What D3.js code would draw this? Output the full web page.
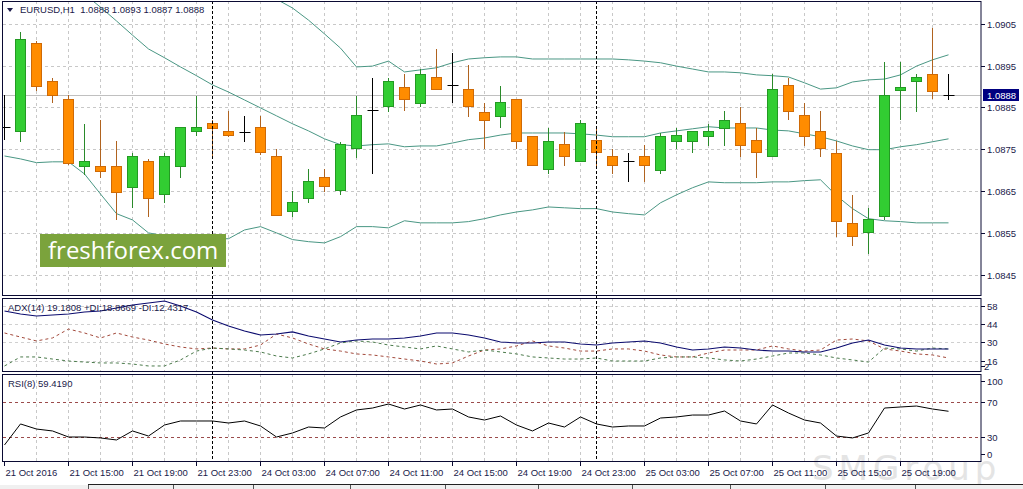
<!DOCTYPE html>
<html>
<head>
<meta charset="utf-8">
<script src="https://cdn.jsdelivr.net/npm/d3@7"></script>
<style>
  html, body { margin: 0; padding: 0; background: #fff; overflow: hidden; }
  svg { display: block; }
  text { font-family: "Liberation Sans", Arial, sans-serif; }
</style>
</head>
<body>
<svg id="chart" width="1023" height="489"></svg>
<script>
// EURUSD H1, 60 bars from 21 Oct 2016 11:00 to 25 Oct 2016 22:00
const open = [
  1.08802, 1.08793, 1.09003, 1.08912, 1.08871, 1.08709, 1.08711, 1.08711, 1.08659, 1.08721,
  1.08642, 1.08709, 1.08793, 1.08812, 1.08793, 1.08790, 1.08802, 1.08733, 1.08601, 1.08632,
  1.08683, 1.08652, 1.08752, 1.08843, 1.08852, 1.08900, 1.08862, 1.08922, 1.08903, 1.08893,
  1.08840, 1.08828, 1.08871, 1.08781, 1.08702, 1.08762, 1.08721, 1.08771, 1.08733, 1.08721,
  1.08733, 1.08699, 1.08769, 1.08769, 1.08781, 1.08802, 1.08812, 1.08771, 1.08733, 1.08903,
  1.08831, 1.08793, 1.08742, 1.08573, 1.08551, 1.08590, 1.08893, 1.08912, 1.08931, 1.08880];
const high = [
  1.08881, 1.09032, 1.09010, 1.08922, 1.08881, 1.08812, 1.08821, 1.08771, 1.08742, 1.08728,
  1.08742, 1.08805, 1.08879, 1.08821, 1.08843, 1.08831, 1.08831, 1.08752, 1.08652, 1.08704,
  1.08704, 1.08769, 1.08879, 1.08922, 1.08922, 1.08931, 1.08943, 1.08991, 1.08981, 1.08953,
  1.08862, 1.08903, 1.08871, 1.08781, 1.08802, 1.08793, 1.08821, 1.08802, 1.08752, 1.08742,
  1.08762, 1.08790, 1.08802, 1.08793, 1.08812, 1.08843, 1.08852, 1.08802, 1.08931, 1.08922,
  1.08862, 1.08843, 1.08771, 1.08642, 1.08611, 1.08960, 1.08960, 1.08931, 1.09041, 1.08930];
const low = [
  1.08774, 1.08769, 1.08891, 1.08862, 1.08714, 1.08690, 1.08683, 1.08582, 1.08611, 1.08590,
  1.08623, 1.08683, 1.08783, 1.08733, 1.08781, 1.08769, 1.08738, 1.08592, 1.08590, 1.08623,
  1.08649, 1.08642, 1.08730, 1.08692, 1.08840, 1.08843, 1.08852, 1.08893, 1.08862, 1.08828,
  1.08752, 1.08802, 1.08752, 1.08711, 1.08692, 1.08711, 1.08721, 1.08711, 1.08692, 1.08673,
  1.08673, 1.08692, 1.08752, 1.08742, 1.08759, 1.08759, 1.08733, 1.08683, 1.08733, 1.08821,
  1.08759, 1.08733, 1.08542, 1.08520, 1.08501, 1.08582, 1.08821, 1.08840, 1.08871, 1.08870];
const close = [
  1.08802, 1.09013, 1.08900, 1.08879, 1.08719, 1.08721, 1.08699, 1.08649, 1.08733, 1.08632,
  1.08733, 1.08802, 1.08802, 1.08800, 1.08783, 1.08790, 1.08742, 1.08592, 1.08623, 1.08673,
  1.08661, 1.08762, 1.08831, 1.08843, 1.08912, 1.08871, 1.08931, 1.08893, 1.08903, 1.08852,
  1.08821, 1.08862, 1.08771, 1.08711, 1.08769, 1.08733, 1.08812, 1.08742, 1.08711, 1.08721,
  1.08711, 1.08781, 1.08783, 1.08793, 1.08793, 1.08821, 1.08759, 1.08742, 1.08893, 1.08840,
  1.08781, 1.08752, 1.08580, 1.08542, 1.08582, 1.08879, 1.08900, 1.08922, 1.08891, 1.08880];

// Bollinger bands
const bbUpper = [
  1.09816, 1.09765, 1.09713, 1.09648, 1.09586, 1.09553, 1.09538, 1.09519, 1.09467, 1.09431,
  1.09395, 1.09357, 1.09316, 1.09273, 1.09240, 1.09180, 1.09134, 1.09110, 1.09089, 1.09060,
  1.09027, 1.08993, 1.08948, 1.08950, 1.08962, 1.08936, 1.08941, 1.08946, 1.08958, 1.08967,
  1.08970, 1.08972, 1.08972, 1.08967, 1.08967, 1.08967, 1.08967, 1.08967, 1.08967, 1.08965,
  1.08962, 1.08958, 1.08950, 1.08943, 1.08936, 1.08936, 1.08934, 1.08929, 1.08927, 1.08924,
  1.08910, 1.08895, 1.08898, 1.08912, 1.08917, 1.08919, 1.08929, 1.08950, 1.08965, 1.08977];
const bbMiddle = [
  1.09275, 1.09247, 1.09216, 1.09185, 1.09154, 1.09122, 1.09091, 1.09058, 1.09024, 1.08991,
  1.08970, 1.08948, 1.08927, 1.08905, 1.08888, 1.08869, 1.08850, 1.08831, 1.08812, 1.08795,
  1.08776, 1.08762, 1.08759, 1.08762, 1.08764, 1.08757, 1.08759, 1.08759, 1.08766, 1.08774,
  1.08778, 1.08785, 1.08790, 1.08790, 1.08790, 1.08790, 1.08788, 1.08785, 1.08781, 1.08781,
  1.08781, 1.08790, 1.08795, 1.08800, 1.08805, 1.08802, 1.08802, 1.08802, 1.08797, 1.08795,
  1.08788, 1.08781, 1.08771, 1.08759, 1.08750, 1.08750, 1.08757, 1.08762, 1.08769, 1.08776];
const bbLower = [
  1.08735, 1.08728, 1.08719, 1.08721, 1.08721, 1.08692, 1.08644, 1.08597, 1.08582, 1.08551,
  1.08544, 1.08539, 1.08537, 1.08537, 1.08537, 1.08558, 1.08566, 1.08551, 1.08535, 1.08530,
  1.08527, 1.08542, 1.08566, 1.08566, 1.08563, 1.08580, 1.08575, 1.08575, 1.08575, 1.08578,
  1.08585, 1.08594, 1.08601, 1.08606, 1.08613, 1.08611, 1.08609, 1.08609, 1.08601, 1.08597,
  1.08594, 1.08623, 1.08642, 1.08659, 1.08673, 1.08671, 1.08671, 1.08671, 1.08673, 1.08673,
  1.08676, 1.08678, 1.08640, 1.08609, 1.08585, 1.08580, 1.08578, 1.08575, 1.08575, 1.08575];

// ADX(14)
const adxMain = [
  54.2, 51.9, 50.4, 51.1, 51.9, 53.4, 54.2, 56.5, 58.8, 60.3,
  61.8, 58.0, 53.4, 47.3, 42.7, 38.9, 35.9, 36.6, 38.2, 35.1,
  32.8, 30.5, 32.0, 32.8, 32.8, 33.6, 35.1, 37.4, 37.4, 35.9,
  33.6, 30.5, 29.8, 29.8, 30.5, 30.5, 29.0, 28.2, 29.8, 30.5,
  31.3, 29.8, 26.7, 24.4, 25.2, 26.7, 25.9, 24.4, 23.6, 23.6,
  22.9, 22.9, 25.9, 29.8, 32.0, 28.2, 25.9, 25.2, 25.2, 25.2];
const plusDI = [
  12.2, 19.1, 19.1, 17.5, 16.0, 15.2, 14.5, 14.5, 13.7, 12.2,
  12.2, 16.8, 23.6, 25.9, 25.2, 24.4, 22.9, 19.8, 18.3, 21.4,
  25.2, 29.8, 31.3, 30.5, 28.2, 26.7, 25.2, 27.5, 25.2, 22.9,
  24.4, 22.9, 21.4, 19.1, 18.3, 17.5, 17.5, 18.3, 16.0, 16.0,
  16.0, 18.3, 19.1, 19.1, 18.3, 16.8, 16.0, 17.5, 19.8, 22.1,
  22.1, 20.6, 18.3, 16.8, 15.2, 25.9, 25.2, 23.6, 25.9, 25.2];
const minusDI = [
  37.4, 34.3, 31.3, 33.6, 40.4, 37.4, 33.6, 37.4, 34.3, 32.0,
  29.0, 26.7, 25.2, 25.9, 25.2, 25.2, 28.2, 36.6, 33.6, 29.0,
  25.2, 23.6, 21.4, 20.6, 19.1, 17.5, 16.0, 13.7, 14.5, 19.8,
  24.4, 25.2, 27.5, 31.3, 27.5, 25.9, 23.6, 23.6, 25.2, 25.2,
  23.6, 20.6, 19.1, 19.1, 22.1, 24.4, 24.4, 24.4, 27.5, 25.2,
  23.6, 24.4, 32.0, 32.8, 31.3, 25.2, 23.6, 21.4, 20.6, 18.3];

// RSI(8)
const rsi = [
  20.9, 44.9, 39.1, 36.9, 30.0, 30.0, 28.9, 26.6, 36.9, 31.1,
  43.7, 48.3, 48.3, 48.3, 46.0, 48.3, 42.6, 30.0, 34.6, 41.4,
  40.3, 52.9, 60.9, 63.1, 67.7, 62.0, 66.6, 60.9, 62.0, 52.9,
  49.4, 54.0, 43.7, 36.9, 46.0, 41.4, 52.9, 44.9, 41.4, 42.6,
  42.6, 51.7, 52.9, 55.1, 55.1, 59.7, 48.3, 44.9, 66.6, 57.4,
  49.4, 46.0, 31.1, 28.9, 34.6, 63.1, 64.3, 65.4, 62.0, 59.4];

const priceTicks = [1.0905, 1.0895, 1.0885, 1.0875, 1.0865, 1.0855, 1.0845];
const adxTicks = [58, 44, 30, 16, 2];
const rsiTicks = [100, 70, 30, 0];
const rsiLevels = [70, 30];
const timeLabels = ["21 Oct 2016", "21 Oct 15:00", "21 Oct 19:00", "21 Oct 23:00",
  "24 Oct 03:00", "24 Oct 07:00", "24 Oct 11:00", "24 Oct 15:00", "24 Oct 19:00",
  "24 Oct 23:00", "25 Oct 03:00", "25 Oct 07:00", "25 Oct 11:00", "25 Oct 15:00", "25 Oct 19:00"];
const timeLabelBars = [0, 4, 8, 12, 16, 20, 24, 28, 32, 36, 40, 44, 48, 52, 56];
const daySeparatorBars = [13, 37];
const lastPrice = 1.0888;

const svg = d3.select('#chart');
const left = 3, right = 981;
const mainP = {top: 1, bottom: 296};
const adxP = {top: 298, bottom: 372};
const rsiP = {top: 374, bottom: 462};
const textColor = '#1a1a4a';
const n = close.length;

const x = d3.scaleLinear().domain([0, n - 1]).range([4.5, 948.5]);
const yPrice = d3.scaleLinear().domain([1.0905, 1.0845]).range([24.3, 275.1]);
const yAdx = d3.scaleLinear().domain([58, 16]).range([306, 361]);
const yRsi = d3.scaleLinear().domain([70, 30]).range([402, 437]);
const px = v => Math.floor(v) + 0.5;

// faint watermark behind everything
svg.append('text')
  .attr('x', 812).attr('y', 480)
  .attr('font-size', 34).attr('letter-spacing', 5)
  .attr('fill', '#e4e4e4')
  .style('font-family', '"DejaVu Sans", sans-serif')
  .text('SMGroup');

function clipFor(id, p) {
  svg.append('clipPath').attr('id', id)
    .append('rect').attr('x', left).attr('y', p.top)
    .attr('width', right - left).attr('height', p.bottom - p.top);
  return svg.append('g').attr('clip-path', `url(#${id})`);
}

const gMain = clipFor('clipMain', mainP);
const gAdx = clipFor('clipAdx', adxP);
const gRsi = clipFor('clipRsi', rsiP);

// vertical grid, every second bar
const gridBars = d3.range(2, n, 2);
[[gMain, mainP], [gAdx, adxP], [gRsi, rsiP]].forEach(([g, p]) => {
  g.selectAll('line.vgrid').data(gridBars).join('line')
    .attr('class', 'vgrid')
    .attr('x1', d => px(x(d))).attr('x2', d => px(x(d)))
    .attr('y1', p.top).attr('y2', p.bottom)
    .attr('stroke', '#c8c8c8').attr('stroke-dasharray', '3,3');
});

// horizontal grid
gMain.selectAll('line.hgrid').data(priceTicks).join('line')
  .attr('x1', left).attr('x2', right)
  .attr('y1', d => px(yPrice(d))).attr('y2', d => px(yPrice(d)))
  .attr('stroke', '#c8c8c8').attr('stroke-dasharray', '3,3');
gAdx.selectAll('line.hgrid').data(adxTicks.slice(0, 4)).join('line')
  .attr('x1', left).attr('x2', right)
  .attr('y1', d => px(yAdx(d))).attr('y2', d => px(yAdx(d)))
  .attr('stroke', '#d0d0d0').attr('stroke-dasharray', '3,3');

// current price line
gMain.append('line')
  .attr('x1', left).attr('x2', right)
  .attr('y1', px(yPrice(lastPrice))).attr('y2', px(yPrice(lastPrice)))
  .attr('stroke', '#c0c0c0');

// Bollinger bands
const priceLine = d3.line().x((d, i) => x(i)).y(d => yPrice(d));
[bbUpper, bbMiddle, bbLower].forEach(band => {
  gMain.append('path').datum(band)
    .attr('d', priceLine)
    .attr('fill', 'none').attr('stroke', '#4a9784').attr('stroke-width', 1);
});

// day separators
daySeparatorBars.forEach(b => {
  svg.append('line')
    .attr('x1', px(x(b))).attr('x2', px(x(b)))
    .attr('y1', mainP.top).attr('y2', rsiP.bottom)
    .attr('stroke', '#000').attr('stroke-dasharray', '3,2');
});

// candles
const bars = d3.range(n).map(i => ({i, o: open[i], h: high[i], l: low[i], c: close[i]}));
const kind = d => d.c > d.o ? 'up' : (d.c < d.o ? 'down' : 'flat');
const wickColor = {up: '#2a8a2a', down: '#b0631f', flat: '#000'};
const bodyFill = {up: '#32cd32', down: '#ff8c00'};
const bodyStroke = {up: '#239a23', down: '#cf6a06'};

const candle = gMain.selectAll('g.candle').data(bars).join('g').attr('class', 'candle');
candle.append('line')
  .attr('x1', d => px(x(d.i))).attr('x2', d => px(x(d.i)))
  .attr('y1', d => Math.round(yPrice(d.h))).attr('y2', d => Math.round(yPrice(d.l)))
  .attr('stroke', d => wickColor[kind(d)]);
candle.filter(d => kind(d) !== 'flat').append('rect')
  .attr('x', d => px(x(d.i)) - 5)
  .attr('y', d => px(yPrice(Math.max(d.o, d.c))))
  .attr('width', 10)
  .attr('height', d => Math.max(1, Math.round(yPrice(Math.min(d.o, d.c))) - Math.round(yPrice(Math.max(d.o, d.c)))))
  .attr('fill', d => bodyFill[kind(d)])
  .attr('stroke', d => bodyStroke[kind(d)]);
candle.filter(d => kind(d) === 'flat').append('line')
  .attr('x1', d => px(x(d.i)) - 5).attr('x2', d => px(x(d.i)) + 6)
  .attr('y1', d => px(yPrice(d.o))).attr('y2', d => px(yPrice(d.o)))
  .attr('stroke', '#000');

// logo
svg.append('rect').attr('x', 40).attr('y', 234).attr('width', 186).attr('height', 33)
  .attr('fill', '#7ba33c');
svg.append('text').attr('x', 48).attr('y', 259)
  .attr('font-size', 24).attr('fill', '#fff')
  .style('font-family', '"Open Sans", sans-serif')
  .text('freshforex.com');

// ADX lines
const adxLine = d3.line().x((d, i) => x(i)).y(d => yAdx(d));
gAdx.append('path').datum(minusDI).attr('d', adxLine)
  .attr('fill', 'none').attr('stroke', '#a34a3c').attr('stroke-dasharray', '3,3');
gAdx.append('path').datum(plusDI).attr('d', adxLine)
  .attr('fill', 'none').attr('stroke', '#4b7a4b').attr('stroke-dasharray', '3,3');
gAdx.append('path').datum(adxMain).attr('d', adxLine)
  .attr('fill', 'none').attr('stroke', '#0b0b6e').attr('stroke-width', 1.1);

// RSI
gRsi.selectAll('line.level').data(rsiLevels).join('line')
  .attr('x1', left).attr('x2', right)
  .attr('y1', d => px(yRsi(d))).attr('y2', d => px(yRsi(d)))
  .attr('stroke', '#9b4b4b').attr('stroke-dasharray', '3,3');
gRsi.append('path').datum(rsi)
  .attr('d', d3.line().x((d, i) => x(i)).y(d => yRsi(d)))
  .attr('fill', 'none').attr('stroke', '#000').attr('stroke-width', 1);

// panel frames
const frame = '#0a0a33';
[mainP, adxP, rsiP].forEach(p => {
  svg.append('rect')
    .attr('x', left - 0.5).attr('y', p.top + 0.5)
    .attr('width', right - left + 0.5).attr('height', p.bottom - p.top - 1)
    .attr('fill', 'none').attr('stroke', frame);
});

// price axis
const axisFont = 9.5;
priceTicks.forEach(t => {
  const yy = px(yPrice(t));
  svg.append('line').attr('x1', right).attr('x2', right + 4).attr('y1', yy).attr('y2', yy).attr('stroke', frame);
  svg.append('text').attr('x', 987).attr('y', yPrice(t) + 3.5)
    .attr('font-size', axisFont).attr('fill', textColor).text(d3.format('.4f')(t));
});
svg.append('rect').attr('x', 983).attr('y', Math.round(yPrice(lastPrice)) - 6)
  .attr('width', 36).attr('height', 12).attr('fill', '#000080');
svg.append('text').attr('x', 987).attr('y', yPrice(lastPrice) + 3.5)
  .attr('font-size', axisFont).attr('fill', '#fff').text(d3.format('.4f')(lastPrice));

function clampY(v, p, lo, hi) { return Math.max(p.top + lo, Math.min(p.bottom - hi, v)); }
adxTicks.forEach(t => {
  const yy = clampY(yAdx(t), adxP, 7, 6);
  svg.append('line').attr('x1', right).attr('x2', right + 4).attr('y1', px(yy)).attr('y2', px(yy)).attr('stroke', frame);
  svg.append('text').attr('x', t < 10 ? 984 : 987).attr('y', yy + 3.5)
    .attr('font-size', axisFont).attr('fill', textColor).text(t);
});
rsiTicks.forEach(t => {
  const yy = clampY(yRsi(t), rsiP, 7, 8);
  svg.append('line').attr('x1', right).attr('x2', right + 4).attr('y1', px(yy)).attr('y2', px(yy)).attr('stroke', frame);
  svg.append('text').attr('x', 987).attr('y', yy + 3.5)
    .attr('font-size', axisFont).attr('fill', textColor).text(t);
});

// time axis
timeLabelBars.forEach((b, k) => {
  const xx = px(x(b));
  svg.append('line').attr('x1', xx).attr('x2', xx).attr('y1', rsiP.bottom).attr('y2', rsiP.bottom + 4).attr('stroke', frame);
  svg.append('text').attr('x', xx + 1).attr('y', 476)
    .attr('font-size', axisFont).attr('fill', textColor).text(timeLabels[k]);
});

// titles
svg.append('path').attr('d', 'M7,8 L13,8 L10,12 Z').attr('fill', textColor);
svg.append('text').attr('x', 20).attr('y', 13).attr('font-size', axisFont).attr('fill', textColor)
  .attr('xml:space', 'preserve')
  .text(`EURUSD,H1  ${[open, high, low, close].map(a => a[n - 1].toFixed(4)).join(' ')}`);
svg.append('text').attr('x', 8).attr('y', 311).attr('font-size', axisFont).attr('fill', textColor)
  .text('ADX(14) 19.1808 +DI:18.8669 -DI:12.4317');
svg.append('text').attr('x', 8).attr('y', 387).attr('font-size', axisFont).attr('fill', textColor)
  .text('RSI(8) 59.4190');

// bottom tab strip
svg.append('rect').attr('x', 0).attr('y', 485).attr('width', 1023).attr('height', 4).attr('fill', '#f0f0f0');
svg.append('line').attr('x1', 88).attr('x2', 1023).attr('y1', 484.5).attr('y2', 484.5).attr('stroke', '#222');
[88, 173, 253, 350, 445, 538, 632, 730, 825, 915].forEach(t => {
  svg.append('line').attr('x1', t + 0.5).attr('x2', t + 0.5).attr('y1', 485).attr('y2', 489).attr('stroke', '#555');
});
</script>
</body>
</html>
